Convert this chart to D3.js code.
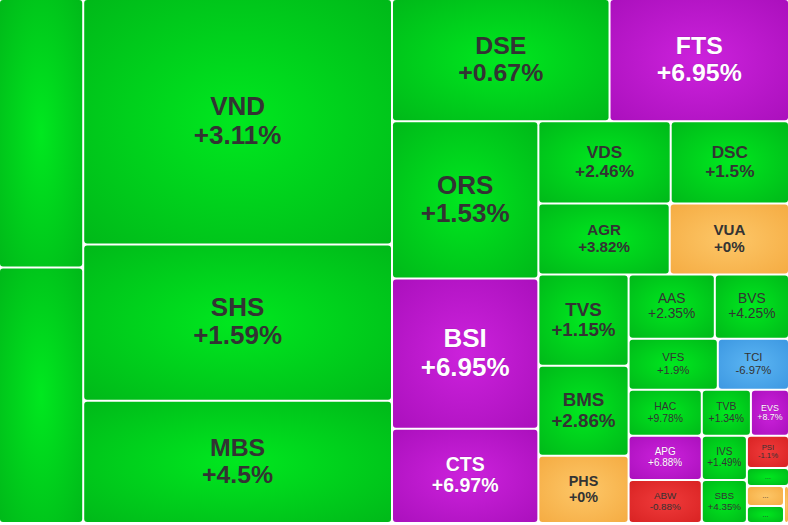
<!DOCTYPE html>
<html lang="vi">
<head>
<meta charset="UTF-8">
<title>Treemap</title>
<script src="https://cdn.jsdelivr.net/npm/d3@7"></script>
<style>
    body { margin: 0; background: #fff; }
    svg { display: block; }
    text { font-family: "Liberation Sans", Arial, sans-serif; }
</style>
</head>
<body>
<script>
    // cells in drawing order ('' = label cut off / too small)
    const tickers = ['', '', 'VND', 'SHS', 'MBS', 'DSE', 'FTS', 'ORS', 'BSI', 'CTS',
        'VDS', 'DSC', 'AGR', 'VUA', 'TVS', 'BMS', 'PHS', 'AAS', 'BVS', 'VFS', 'TCI',
        'HAC', 'APG', 'ABW', 'TVB', 'EVS', 'IVS', 'SBS', 'PSI', '...', '...', '...', '']
    const changes = [null, null, 3.11, 1.59, 4.5, 0.67, 6.95, 1.53, 6.95, 6.97,
        2.46, 1.5, 3.82, 0, 1.15, 2.86, 0, 2.35, 4.25, 1.9, -6.97,
        9.78, 6.88, -0.88, 1.34, 8.7, 1.49, 4.35, -1.1, null, null, null, null]
    const sizes = [22512, 21420, 75460, 48048, 37576, 26474, 21838, 22922, 21900, 13724,
        10824, 9676, 9301, 8449, 8190, 8100, 6030, 5504, 4736, 4539, 3621,
        3358, 3212, 3139, 2254, 1748, 1980, 1935, 1344, 756, 740, 629, 185]
    const status = ['up', 'up', 'up', 'up', 'up', 'up', 'ceil', 'up', 'ceil', 'ceil',
        'up', 'up', 'up', 'ref', 'up', 'up', 'ref', 'up', 'up', 'up', 'floor',
        'up', 'ceil', 'down', 'up', 'ceil', 'up', 'up', 'down', 'up', 'ref', 'up', 'ref']

    // how the cells are grouped into strips (v = column on the left, h = row on top)
    const stripSizes = [2, 3, 2, 3, 2, 2, 3, 2, 2, 3, 2, 2, 1, 1, 2, 1]
    const stripDirs = ['v', 'v', 'h', 'v', 'h', 'h', 'v', 'h', 'h', 'v', 'h', 'v', 'h', 'h', 'v', 'v']

    const [width, height] = [788, 522]
    const palette = {
        up: ['#00e81f', '#00b919'],
        ceil: ['#cc22dc', '#ab10bd'],
        ref: ['#fdc768', '#f5ac43'],
        down: ['#f03b3b', '#d92323'],
        floor: ['#5cb6f3', '#3d98e2']
    }

    const stripTile = (parent, x0, y0, x1, y1) => {
        const nodes = parent.children
        let i = 0, remaining = parent.value
        stripSizes.forEach((n, k) => {
            const row = nodes.slice(i, i + n)
            const sum = d3.sum(row, d => d.value)
            const strip = {children: row, value: sum}
            if (stripDirs[k] === 'v') {
                const x = x0 + (x1 - x0) * sum / remaining
                d3.treemapSlice(strip, x0, y0, x, y1)
                x0 = x
            } else {
                const y = y0 + (y1 - y0) * sum / remaining
                d3.treemapDice(strip, x0, y0, x1, y)
                y0 = y
            }
            remaining -= sum
            i += n
        })
    }

    const data = {children: tickers.map((t, i) => ({
        name: t, change: changes[i], size: sizes[i], status: status[i]
    }))}
    const root = d3.hierarchy(data).sum(d => d.size || 0)
    d3.treemap().tile(stripTile).size([width, height]).paddingInner(2)(root)

    const svg = d3.select('body').append('svg')
        .attr('width', width)
        .attr('height', 525)

    const defs = svg.append('defs')
    Object.entries(palette).forEach(([key, [c0, c1]]) => {
        const g = defs.append('radialGradient').attr('id', 'g-' + key)
            .attr('cx', '50%').attr('cy', '50%').attr('r', '70%')
        g.append('stop').attr('offset', '0%').attr('stop-color', c0)
        g.append('stop').attr('offset', '100%').attr('stop-color', c1)
    })

    const cell = svg.selectAll('g.cell').data(root.leaves()).enter()
        .append('g').attr('class', 'cell')

    cell.append('rect')
        .attr('x', d => d.x0)
        .attr('y', d => d.y0)
        .attr('width', d => d.x1 - d.x0)
        .attr('height', d => d.y1 - d.y0)
        .attr('rx', 3)
        .attr('fill', d => `url(#g-${d.data.status})`)

    const fmt = v => (v >= 0 ? '+' : '') + v + '%'

    cell.filter(d => d.data.name !== '').each(function (d) {
        const w = d.x1 - d.x0, h = d.y1 - d.y0
        const cx = (d.x0 + d.x1) / 2, cy = (d.y0 + d.y1) / 2
        const small = d.data.change === null
        const fs = small ? 7 : Math.max(6, Math.min(26, 0.19 * h + 2, 0.19 * w + 2))
        const light = d.data.status === 'ceil'
        const text = d3.select(this).append('text')
            .attr('text-anchor', 'middle')
            .attr('font-size', fs)
            .attr('font-weight', fs >= 14 ? 'bold' : 'normal')
            .attr('fill', light ? '#ffffff' : '#333333')
            .attr('stroke', light ? 'rgba(0,0,0,0.12)' : 'none')
            .attr('stroke-width', 1)
            .attr('paint-order', 'stroke')
        if (small) {
            text.append('tspan').attr('x', cx).attr('y', cy + 0.35 * fs).text(d.data.name)
            return
        }
        const lh = 1.08 * fs
        text.append('tspan').attr('x', cx)
            .attr('y', cy - lh / 2 + 0.3 * fs).text(d.data.name)
        text.append('tspan').attr('x', cx)
            .attr('y', cy + lh / 2 + 0.3 * fs).text(fmt(d.data.change))
    })
</script>
</body>
</html>
